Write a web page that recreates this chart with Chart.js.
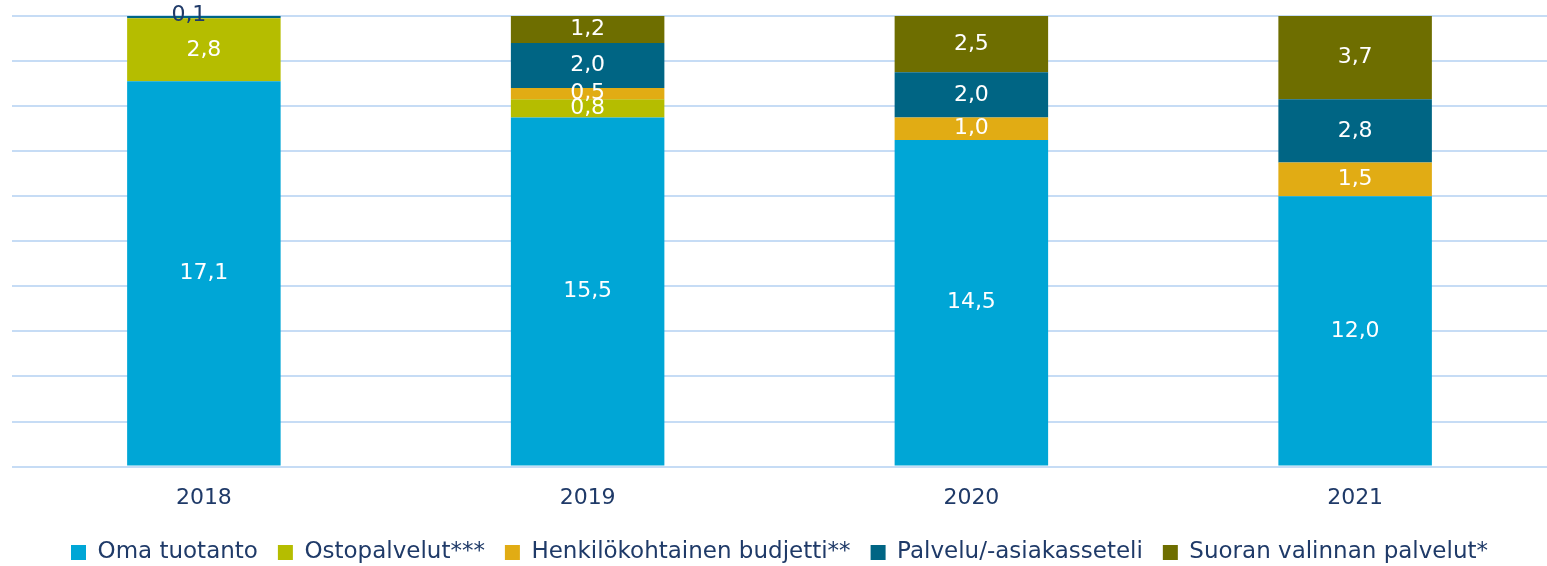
<!DOCTYPE html>
<html lang="fi">
<head>
<meta charset="utf-8">
<title>Palvelutuotanto</title>
<script src="https://cdn.jsdelivr.net/npm/chart.js@4.4.1/dist/chart.umd.min.js"></script>
<style>
  html, body { margin: 0; padding: 0; background: #fff; }
  #wrap { width: 1547px; height: 566px; position: relative; }
</style>
</head>
<body>
<div id="wrap"><canvas id="kaavio"></canvas></div>
<script>
// Vuodet ja sarjat
const vuodet = ["2018", "2019", "2020", "2021"];
const omaTuotanto = [17.1, 15.5, 14.5, 12.0];
const ostopalvelut = [2.8, 0.8, null, null];
const henkBudjetti = [null, 0.5, 1.0, 1.5];
const palveluseteli = [0.1, 2.0, 2.0, 2.8];
const suoranValinnan = [null, 1.2, 2.5, 3.7];

const tekstiVari = "#1f3a68";
const fontti = "DejaVu Sans";

// Arvot palkkien keskelle
const arvoTekstit = {
  id: "arvoTekstit",
  afterDatasetsDraw(chart) {
    const ctx = chart.ctx;
    ctx.save();
    ctx.font = "22px '" + fontti + "'";
    ctx.textAlign = "center";
    ctx.textBaseline = "middle";
    chart.data.datasets.forEach((ds, i) => {
      const meta = chart.getDatasetMeta(i);
      meta.data.forEach((el, j) => {
        const v = ds.data[j];
        if (v == null) return;
        const teksti = v.toFixed(1).replace(".", ",");
        let y = (el.y + el.base) / 2;
        let x = el.x;
        if (v < 0.3) {
          ctx.fillStyle = tekstiVari;
          y = el.y - 1;
          x = el.x - 15;
        } else {
          ctx.fillStyle = "#ffffff";
        }
        ctx.fillText(teksti, x, y);
      });
    });
    ctx.restore();
  }
};

new Chart(document.getElementById("kaavio"), {
  type: "bar",
  data: {
    labels: vuodet,
    datasets: [
      { label: "Oma tuotanto", data: omaTuotanto, backgroundColor: "#00a6d6" },
      { label: "Ostopalvelut***", data: ostopalvelut, backgroundColor: "#b5bd00" },
      { label: "Henkilökohtainen budjetti**", data: henkBudjetti, backgroundColor: "#e1ac14" },
      { label: "Palvelu/-asiakasseteli", data: palveluseteli, backgroundColor: "#006584" },
      { label: "Suoran valinnan palvelut*", data: suoranValinnan, backgroundColor: "#6e6e00" }
    ]
  },
  options: {
    responsive: true,
    maintainAspectRatio: false,
    animation: false,
    layout: { padding: { left: 12, right: 0, top: 16, bottom: -8 } },
    datasets: { bar: { categoryPercentage: 1, barPercentage: 0.4 } },
    plugins: {
      legend: {
        position: "bottom",
        labels: {
          boxWidth: 15,
          boxHeight: 15,
          padding: 20,
          color: tekstiVari,
          font: { family: fontti, size: 23 }
        }
      },
      tooltip: { enabled: false }
    },
    scales: {
      x: {
        stacked: true,
        grid: { display: false },
        border: { display: false },
        ticks: { color: tekstiVari, font: { family: fontti, size: 22 }, padding: 10 }
      },
      y: {
        stacked: true,
        min: 0,
        max: 20,
        ticks: { stepSize: 2, display: false },
        border: { display: false },
        grid: { color: "#c6dcf5", lineWidth: 2, drawTicks: false }
      }
    }
  },
  plugins: [arvoTekstit]
});
</script>
</body>
</html>
